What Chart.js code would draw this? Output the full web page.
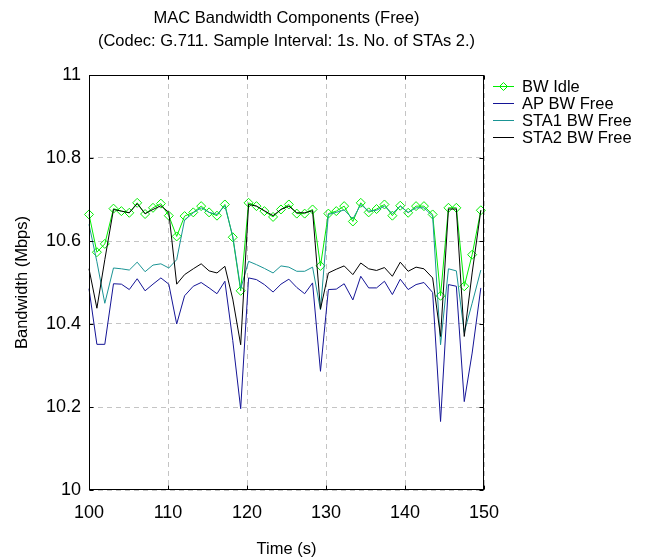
<!DOCTYPE html>
<html><head><meta charset="utf-8">
<script src="https://cdn.jsdelivr.net/npm/chart.js@4/dist/chart.umd.min.js"></script>
<style>html,body{margin:0;padding:0;background:#fff;}#wrap{width:651px;height:559px;}</style>
</head><body><div id="wrap"><canvas id="c" width="651" height="559"></canvas></div>
<script>
const times = [100.0,101.0,102.0,103.1,104.1,105.1,106.1,107.1,108.1,109.1,
  110.1,111.1,112.1,113.2,114.2,115.2,116.2,117.2,118.2,119.2,
  120.2,121.2,122.2,123.3,124.3,125.3,126.3,127.3,128.3,129.3,
  130.3,131.3,132.3,133.4,134.4,135.4,136.4,137.4,138.4,139.4,
  140.4,141.4,142.4,143.5,144.5,145.5,146.5,147.5,148.5,149.6];
const bwIdle = [10.664,10.573,10.593,10.678,10.672,10.668,10.692,10.665,10.680,10.690,
  10.661,10.611,10.660,10.669,10.684,10.669,10.661,10.688,10.609,10.480,
  10.692,10.684,10.672,10.658,10.676,10.688,10.666,10.666,10.676,10.540,
  10.666,10.672,10.684,10.647,10.692,10.669,10.677,10.688,10.661,10.685,
  10.668,10.684,10.684,10.664,10.468,10.680,10.680,10.491,10.567,10.674];
const apBwFree = [10.485,10.351,10.351,10.497,10.496,10.483,10.509,10.480,10.496,10.511,
  10.496,10.400,10.468,10.491,10.500,10.487,10.473,10.503,10.360,10.196,
  10.511,10.507,10.495,10.477,10.496,10.508,10.488,10.473,10.499,10.286,
  10.483,10.484,10.497,10.458,10.515,10.487,10.487,10.503,10.471,10.508,
  10.483,10.495,10.500,10.476,10.165,10.495,10.491,10.213,10.330,10.487];
const sta1BwFree = [10.640,10.550,10.450,10.535,10.533,10.530,10.549,10.526,10.542,10.545,
  10.535,10.555,10.651,10.668,10.680,10.669,10.664,10.685,10.611,10.485,
  10.551,10.543,10.534,10.523,10.540,10.537,10.527,10.527,10.537,10.434,
  10.664,10.669,10.675,10.653,10.688,10.672,10.674,10.684,10.666,10.684,
  10.669,10.680,10.680,10.660,10.350,10.533,10.528,10.380,10.450,10.530];
const sta2BwFree = [10.533,10.438,10.555,10.676,10.672,10.668,10.690,10.666,10.676,10.685,
  10.669,10.496,10.519,10.533,10.545,10.528,10.523,10.539,10.460,10.350,
  10.688,10.684,10.673,10.661,10.676,10.684,10.668,10.668,10.673,10.436,
  10.523,10.532,10.540,10.519,10.547,10.533,10.529,10.536,10.515,10.549,
  10.527,10.537,10.533,10.511,10.370,10.677,10.677,10.370,10.523,10.674];
const xTicks = [100,110,120,130,140,150];
const yTicks = [10,10.2,10.4,10.6,10.8,11];
const seriesNames = ['BW Idle','AP BW Free','STA1 BW Free','STA2 BW Free'];
const titleLines = ['MAC Bandwidth Components (Free)','(Codec: G.711. Sample Interval: 1s. No. of STAs 2.)'];
const xTitle = 'Time (s)';
const yTitle = 'Bandwidth (Mbps)';

const FONT = '"Liberation Sans", Arial, Helvetica, sans-serif';
const colors = ['#00ee00','#141496','#1a9494','#000000'];
const seriesData = [bwIdle, apBwFree, sta1BwFree, sta2BwFree];
const pts = arr => arr.map((v,i)=>({x:times[i], y:v}));

const datasets = seriesData.map((arr,k)=>({
  label: seriesNames[k],
  data: pts(arr),
  borderColor: colors[k],
  backgroundColor: 'rgba(0,0,0,0)',
  borderWidth: 1,
  tension: 0,
  pointStyle: k===0 ? 'rectRot' : 'circle',
  pointRadius: k===0 ? 4.5 : 0,
  pointBorderColor: colors[k],
  pointBackgroundColor: 'rgba(0,0,0,0)',
  pointBorderWidth: 1,
  order: 4-k,
  clip: 6
}));

const decor = {
  id: 'decor',
  afterDraw(chart){
    const {ctx, chartArea:a} = chart;
    const xs = chart.scales.x, ys = chart.scales.y;
    ctx.save();
    const L = Math.round(a.left)+0.5, R = Math.round(a.right)-0.5;
    const T = Math.round(a.top)+0.5, B = Math.round(a.bottom)-0.5;
    ctx.strokeStyle = '#000'; ctx.lineWidth = 1;
    ctx.beginPath();
    xTicks.forEach(v=>{
      const px = Math.round(xs.getPixelForValue(v))+0.5;
      ctx.moveTo(px,B); ctx.lineTo(px,B-4);
      ctx.moveTo(px,T); ctx.lineTo(px,T+4);
    });
    yTicks.forEach(v=>{
      const py = Math.round(ys.getPixelForValue(v))+0.5;
      ctx.moveTo(L,py); ctx.lineTo(L+4,py);
      ctx.moveTo(R,py); ctx.lineTo(R-4,py);
    });
    ctx.stroke();
    ctx.strokeRect(L,T,R-L,B-T);
    // titles
    ctx.fillStyle = '#000';
    ctx.textAlign = 'center'; ctx.textBaseline = 'middle';
    ctx.font = '16.5px ' + FONT;
    const cx = (a.left+a.right)/2;
    ctx.fillText(titleLines[0], cx, 18);
    ctx.fillText(titleLines[1], cx, 41);
    ctx.fillText(xTitle, cx, 549);
    ctx.save();
    ctx.translate(22, (a.top+a.bottom)/2);
    ctx.rotate(-Math.PI/2);
    ctx.fillText(yTitle, 0, 0);
    ctx.restore();
    // legend
    ctx.textAlign = 'left';
    chart.data.datasets.forEach((ds,k)=>{
      const yy = 86 + k*17;
      ctx.strokeStyle = ds.borderColor; ctx.lineWidth = 1;
      ctx.beginPath(); ctx.moveTo(493,yy+0.5); ctx.lineTo(514,yy+0.5); ctx.stroke();
      if (ds.pointStyle==='rectRot'){
        const r = 4, c = 503.5;
        ctx.beginPath();
        ctx.moveTo(c,yy+0.5-r); ctx.lineTo(c+r,yy+0.5); ctx.lineTo(c,yy+0.5+r); ctx.lineTo(c-r,yy+0.5); ctx.closePath();
        ctx.stroke();
      }
      ctx.fillStyle = '#000';
      ctx.fillText(ds.label, 522, yy+1);
    });
    ctx.restore();
  }
};

new Chart(document.getElementById('c'), {
  type: 'line',
  data: { datasets },
  options: {
    responsive: false,
    animation: false,
    devicePixelRatio: 1,
    layout: { padding: { top: 75, right: 167, left: 0, bottom: 0 } },
    plugins: { legend: { display: false }, title: { display: false }, tooltip: { enabled: false } },
    scales: {
      x: {
        type: 'linear', min: 100, max: 150,
        afterFit: s => { s.height = 69; },
        afterBuildTicks: s => { s.ticks = xTicks.map(v=>({value:v})); },
        grid: { color: '#c4c4c4', drawTicks: false, lineWidth: 1 },
        border: { display: false, dash: [5,4] },
        ticks: { font: { size: 18, family: FONT }, color: '#000', padding: 12, maxRotation: 0,
                 callback: v => String(Number(v.toFixed(1))) }
      },
      y: {
        type: 'linear', min: 10, max: 11,
        afterFit: s => { s.width = 89; },
        afterBuildTicks: s => { s.ticks = yTicks.map(v=>({value:v})); },
        grid: { color: '#c4c4c4', drawTicks: false, lineWidth: 1 },
        border: { display: false, dash: [5,4] },
        ticks: { font: { size: 18, family: FONT }, color: '#000', padding: 8,
                 callback: v => String(Number(v.toFixed(1))) }
      }
    }
  },
  plugins: [decor]
});
</script></body></html>
